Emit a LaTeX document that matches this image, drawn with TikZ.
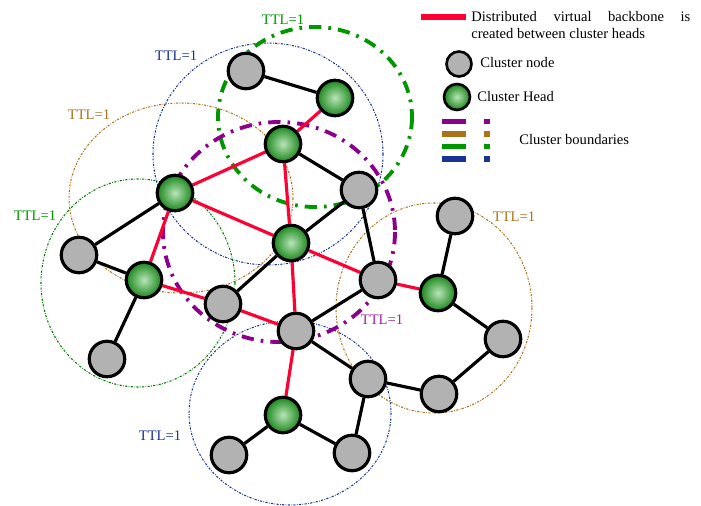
\documentclass[tikz,border=0pt]{standalone}
\usepackage{fontspec}
\setmainfont{Liberation Serif}
\usetikzlibrary{backgrounds}
\definecolor{bbred}{RGB}{255,0,51}
\definecolor{clpurple}{RGB}{140,0,140}
\definecolor{clbrown}{RGB}{170,115,25}
\definecolor{clgreen}{RGB}{0,150,0}
\definecolor{clblue}{RGB}{25,50,150}
\definecolor{nodegray}{RGB}{178,178,178}
\tikzset{
  cnode/.style={draw, circle, line width=1.8pt, fill=nodegray, minimum size=0.71cm, inner sep=0pt},
  chead/.style={draw, circle, line width=1.8pt, inner color={rgb,255:red,185;green,228;blue,185}, outer color={rgb,255:red,25;green,135;blue,25}, minimum size=0.71cm, inner sep=0pt},
  link/.style={line width=1.8pt},
  backbone/.style={line width=1.8pt, bbred},
  ttlring/.style={line width=0.6pt, dash pattern=on 1.2pt off 0.8pt on 0.4pt off 0.8pt},
  bigring/.style={line width=2.2pt, dash pattern=on 7pt off 4pt on 1.5pt off 4pt},
  lbl/.style={font=\fontsize{8.3}{9.6}\selectfont, inner sep=0pt},
}

\begin{document}
\begin{tikzpicture}[x=0.02cm, y=-0.02cm]
      \useasboundingbox (0, 0) rectangle (701, 506);
      % cluster heads
      \node[chead] (H1) at (335, 98) {};
      \node[chead] (H2) at (283, 144) {};
      \node[chead] (H3) at (175, 193) {};
      \node[chead] (H4) at (291, 243) {};
      \node[chead] (H5) at (144, 280) {};
      \node[chead] (H6) at (438, 293) {};
      \node[chead] (H7) at (283, 415) {};
      % cluster nodes
      \node[cnode] (C1) at (246, 71) {};
      \node[cnode] (C2) at (359, 190) {};
      \node[cnode] (C3) at (79, 255) {};
      \node[cnode] (C4) at (223, 304) {};
      \node[cnode] (C5) at (296, 331) {};
      \node[cnode] (C6) at (378, 280) {};
      \node[cnode] (C7) at (455, 216) {};
      \node[cnode] (C8) at (503, 339) {};
      \node[cnode] (C9) at (439, 394) {};
      \node[cnode] (C10) at (368, 379) {};
      \node[cnode] (C11) at (107, 359) {};
      \node[cnode] (C12) at (229, 455) {};
      \node[cnode] (C13) at (352, 453) {};

      \begin{scope}[on background layer]
      % cluster boundaries
      \draw[ttlring, clblue] (268, 154) ellipse (115 and 111);
      \draw[ttlring, clbrown] (181, 198) ellipse (112 and 95);
      \draw[ttlring, clgreen!80!black] (138, 283) ellipse (97 and 104);
      \draw[ttlring, clblue] (290, 413) ellipse (101 and 92);
      \draw[ttlring, clbrown] (434, 308) ellipse (98 and 105);
      \draw[bigring, clgreen] (315, 117) ellipse (97 and 90);
      \draw[bigring, clpurple] (279, 232) ellipse (116 and 110);
      % links
      \draw[link] (C1) -- (H1);
      \draw[link] (H2) -- (C2);
      \draw[link] (C2) -- (H4);
      \draw[link] (C2) -- (C6);
      \draw[link] (H3) -- (C3);
      \draw[link] (C3) -- (H5);
      \draw[link] (H5) -- (C11);
      \draw[link] (C4) -- (H4);
      \draw[link] (C5) -- (C6);
      \draw[link] (C5) -- (C10);
      \draw[link] (C10) -- (C9);
      \draw[link] (C10) -- (C13);
      \draw[link] (H7) -- (C12);
      \draw[link] (H7) -- (C13);
      \draw[link] (H6) -- (C7);
      \draw[link] (H6) -- (C8);
      \draw[link] (C8) -- (C9);
      % virtual backbone
      \draw[backbone] (H1) -- (H2);
      \draw[backbone] (H2) -- (H3);
      \draw[backbone] (H2) -- (H4);
      \draw[backbone] (H3) -- (H4);
      \draw[backbone] (H3) -- (H5);
      \draw[backbone] (H5) -- (C4);
      \draw[backbone] (C4) -- (C5);
      \draw[backbone] (H4) -- (C5);
      \draw[backbone] (H4) -- (C6);
      \draw[backbone] (C6) -- (H6);
      \draw[backbone] (C5) -- (H7);
      \end{scope}

      % TTL labels
      \node[lbl, text=clgreen] (T1) at (283, 20) {TTL=1};
      \node[lbl, text=clblue] (T2) at (176, 56) {TTL=1};
      \node[lbl, text=clbrown] (T3) at (89, 115) {TTL=1};
      \node[lbl, text=clgreen] (T4) at (35, 216) {TTL=1};
      \node[lbl, text=clbrown] (T5) at (514, 217) {TTL=1};
      \node[lbl, text=clpurple!85] (T6) at (382, 320) {TTL=1};
      \node[lbl, text=clblue] (T7) at (160, 436) {TTL=1};

      % legend
      \draw[bbred, line width=3.4pt] (421, 17) -- (466, 17);
      \node[lbl, anchor=west, align=left] (L1) at (471, 25) {\makebox[4.38cm][s]{Distributed virtual backbone is}\\created between cluster heads};
      \node[cnode, line width=1.5pt, minimum size=0.5cm] (L2) at (459, 64) {};
      \node[lbl, anchor=west] (L3) at (480, 63) {Cluster node};
      \node[chead, line width=1.5pt, minimum size=0.52cm] (L4) at (457, 97) {};
      \node[lbl, anchor=west] (L5) at (477, 97) {Cluster Head};
      \foreach \col/\yy in {clpurple/121.5, clbrown/134, clgreen/146.5, clblue/159} {
        \draw[\col, line width=3.4pt] (442, \yy) -- (466, \yy);
        \draw[\col, line width=3.4pt] (484, \yy) -- (490, \yy);
      }
      \node[lbl, anchor=west] (L6) at (519, 140) {Cluster boundaries};
    \end{tikzpicture}
\end{document}
